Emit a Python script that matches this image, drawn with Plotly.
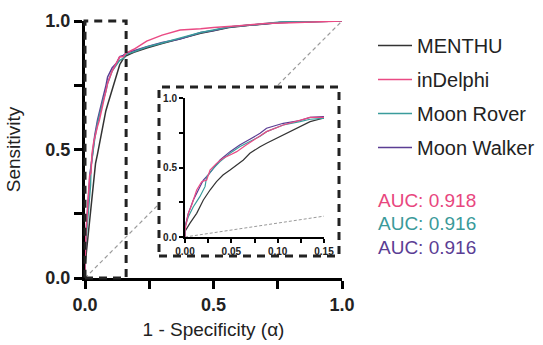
import plotly.graph_objects as go

# ---------------- data ----------------
series_names = ["MENTHU", "inDelphi", "Moon Rover", "Moon Walker"]
series_colors = ["#333333", "#EA4A84", "#3A9C9C", "#5B3D94"]

menthu_fpr = [0, 0, 0.0054, 0.0126, 0.0198, 0.027, 0.034, 0.041, 0.0486, 0.0558, 0.063, 0.070, 0.081,
              0.088, 0.106, 0.124, 0.135, 0.149, 0.16, 0.19, 0.24, 0.30, 0.37, 0.45, 0.50, 0.56,
              0.65, 0.76, 0.90, 1.0]
menthu_tpr = [0, 0.04, 0.10, 0.17, 0.266, 0.338, 0.398, 0.446, 0.482, 0.518, 0.554, 0.602, 0.65,
              0.674, 0.734, 0.794, 0.83, 0.854, 0.865, 0.878, 0.895, 0.912, 0.932, 0.952, 0.962, 0.975,
              0.984, 0.994, 0.998, 1.0]

indelphi_fpr = [0, 0, 0.0036, 0.0072, 0.0126, 0.018, 0.0234, 0.027, 0.034, 0.041, 0.0486, 0.0558,
                0.066, 0.077, 0.088, 0.106, 0.124, 0.135, 0.149, 0.16, 0.19, 0.24, 0.30, 0.37, 0.45,
                0.50, 0.60, 0.70, 0.80, 0.90, 1.0]
indelphi_tpr = [0, 0.05, 0.17, 0.23, 0.338, 0.398, 0.41, 0.482, 0.53, 0.566, 0.59, 0.614,
                0.662, 0.71, 0.758, 0.806, 0.842, 0.861, 0.861, 0.875, 0.89, 0.922, 0.945, 0.965, 0.97,
                0.975, 0.982, 0.99, 0.993, 0.997, 1.0]

rover_fpr = [0, 0, 0.0036, 0.009, 0.016, 0.0216, 0.0234, 0.0306, 0.0378, 0.0486, 0.059, 0.070, 0.081,
             0.088, 0.106, 0.124, 0.135, 0.149, 0.16, 0.19, 0.24, 0.30, 0.37, 0.45, 0.50, 0.56, 0.65,
             0.76, 0.90, 1.0]
rover_tpr = [0, 0.074, 0.146, 0.218, 0.29, 0.362, 0.434, 0.494, 0.542, 0.602, 0.65, 0.69, 0.725,
             0.758, 0.806, 0.83, 0.847, 0.854, 0.87, 0.88, 0.899, 0.914, 0.934, 0.955, 0.965, 0.977, 0.985,
             0.996, 0.998, 1.0]

walker_fpr = [0, 0, 0.0036, 0.009, 0.0144, 0.0198, 0.025, 0.0306, 0.0378, 0.0486, 0.059, 0.070, 0.081,
              0.088, 0.106, 0.124, 0.135, 0.149, 0.16, 0.19, 0.24, 0.30, 0.37, 0.45, 0.50, 0.56, 0.65,
              0.76, 0.90, 1.0]
walker_tpr = [0, 0.074, 0.17, 0.266, 0.338, 0.41, 0.446, 0.494, 0.554, 0.614, 0.662, 0.703, 0.746,
              0.782, 0.818, 0.838, 0.861, 0.866, 0.875, 0.885, 0.90, 0.916, 0.93, 0.955, 0.963, 0.977, 0.985,
              0.994, 0.998, 1.0]

chance_x = [0, 1]
chance_y = [0, 1]

auc_labels = ["AUC: 0.918", "AUC: 0.916", "AUC: 0.916"]
auc_colors = ["#E8467E", "#3A9A9A", "#5B3D94"]

main_ticks = [0, 0.5, 1.0]
inset_xticks = [0, 0.05, 0.10, 0.15]
inset_yticks = [0, 0.5, 1.0]
zoom_fpr_max = 0.16

FONT = "Liberation Sans, Arial, sans-serif"

curves = [(menthu_fpr, menthu_tpr), (indelphi_fpr, indelphi_tpr),
          (rover_fpr, rover_tpr), (walker_fpr, walker_tpr)]
draw_order = [0, 3, 2, 1]

fig = go.Figure()

# main plot
fig.add_trace(go.Scatter(x=chance_x, y=chance_y, mode="lines", showlegend=False,
                         line=dict(color="#9a9a9a", width=1.2, dash="4px,3px"),
                         xaxis="x", yaxis="y", hoverinfo="skip"))
for i in draw_order:
    fx, ty = curves[i]
    fig.add_trace(go.Scatter(x=fx, y=ty, mode="lines", name=series_names[i],
                             line=dict(color=series_colors[i], width=1.5),
                             legendrank=i + 1, legendgroup=series_names[i],
                             xaxis="x", yaxis="y"))

# blank cover subplot (white background behind the inset box)
fig.add_trace(go.Scatter(x=[0], y=[0], mode="markers", marker=dict(opacity=0),
                         showlegend=False, xaxis="x2", yaxis="y2", hoverinfo="skip"))

# inset
fig.add_trace(go.Scatter(x=chance_x, y=chance_y, mode="lines", showlegend=False,
                         line=dict(color="#9a9a9a", width=1.0, dash="3px,2px"),
                         xaxis="x3", yaxis="y3", hoverinfo="skip"))
for i in draw_order:
    fx, ty = curves[i]
    fig.add_trace(go.Scatter(x=fx, y=ty, mode="lines", showlegend=False,
                             line=dict(color=series_colors[i], width=1.2),
                             xaxis="x3", yaxis="y3"))

W, H = 543, 345
L, R, T, B = 85, 201, 21, 67
pw, ph = W - L - R, H - T - B

def px_x(p):
    return (p - L) / pw

def px_y(p):
    return (H - B - p) / ph

box = dict(x0=px_x(159), x1=px_x(339), y0=px_y(256), y1=px_y(87))

axis_common = dict(showgrid=False, zeroline=False, showline=True, linecolor="black",
                   ticks="outside", tickcolor="black", automargin=False)

fig.update_layout(
    width=W, height=H,
    margin=dict(l=L, r=R, t=T, b=B, autoexpand=False),
    paper_bgcolor="white", plot_bgcolor="white",
    font=dict(family=FONT, color="#222"),
    xaxis=dict(domain=[0, 1], range=[0, 1], anchor="y", **axis_common,
               linewidth=3, tickwidth=3, ticklen=8,
               tickvals=main_ticks, tickformat=".1f",
               tickfont=dict(size=18, weight="bold", color="#222"),
               minor=dict(dtick=0.25, ticklen=8, tickwidth=3, tickcolor="black", ticks="outside"),
               title=dict(text="1 - Specificity (α)", font=dict(size=19, color="#222"), standoff=10)),
    yaxis=dict(domain=[0, 1], range=[0, 1], anchor="x", **axis_common,
               linewidth=3, tickwidth=3, ticklen=8,
               tickvals=main_ticks, tickformat=".1f",
               tickfont=dict(size=18, weight="bold", color="#222"),
               minor=dict(dtick=0.25, ticklen=8, tickwidth=3, tickcolor="black", ticks="outside"),
               title=dict(text="Sensitivity", font=dict(size=19, color="#222"), standoff=20)),
    xaxis2=dict(domain=[box["x0"], box["x1"]], anchor="y2", visible=False, range=[1, 2]),
    yaxis2=dict(domain=[box["y0"], box["y1"]], anchor="x2", visible=False, range=[1, 2]),
    xaxis3=dict(domain=[px_x(185), px_x(324)], range=[0, 0.15], anchor="y3", **axis_common,
                linewidth=2, tickwidth=1.5, ticklen=4,
                tickvals=inset_xticks, tickformat=".2f",
                tickfont=dict(size=10, weight="bold", color="#222"),
                minor=dict(dtick=0.025, ticklen=4, tickwidth=1.5, tickcolor="black", ticks="outside")),
    yaxis3=dict(domain=[px_y(237), px_y(98)], range=[0, 1], anchor="x3", **axis_common,
                linewidth=2, tickwidth=1.5, ticklen=4,
                tickvals=inset_yticks, tickformat=".1f",
                tickfont=dict(size=10, weight="bold", color="#222"),
                minor=dict(dtick=0.25, ticklen=4, tickwidth=1.5, tickcolor="black", ticks="outside")),
    legend=dict(x=px_x(373), y=px_y(26), xanchor="left", yanchor="top",
                font=dict(size=20, color="#222"), bgcolor="rgba(0,0,0,0)",
                tracegroupgap=5, traceorder="grouped", itemwidth=34),
    showlegend=True,
)

# dashed zoom box on main plot
fig.add_shape(type="rect", xref="paper", yref="paper", x0=0, x1=zoom_fpr_max, y0=0, y1=1,
              line=dict(color="#222", width=3, dash="8px,6px"), layer="above")
# dashed inset frame
fig.add_shape(type="rect", xref="paper", yref="paper", x0=box["x0"], x1=box["x1"],
              y0=box["y0"], y1=box["y1"],
              line=dict(color="#222", width=3, dash="8px,6px"), layer="above")

auc_y_px = [200, 223, 247]
for txt, col, yp in zip(auc_labels, auc_colors, auc_y_px):
    fig.add_annotation(text=txt, xref="paper", yref="paper", x=px_x(376), y=px_y(yp),
                       xanchor="left", yanchor="middle", showarrow=False,
                       font=dict(size=19, color=col, family=FONT))

fig.write_html("out.html", config={"displayModeBar": False},
               post_script="document.body.style.margin='0px';")
